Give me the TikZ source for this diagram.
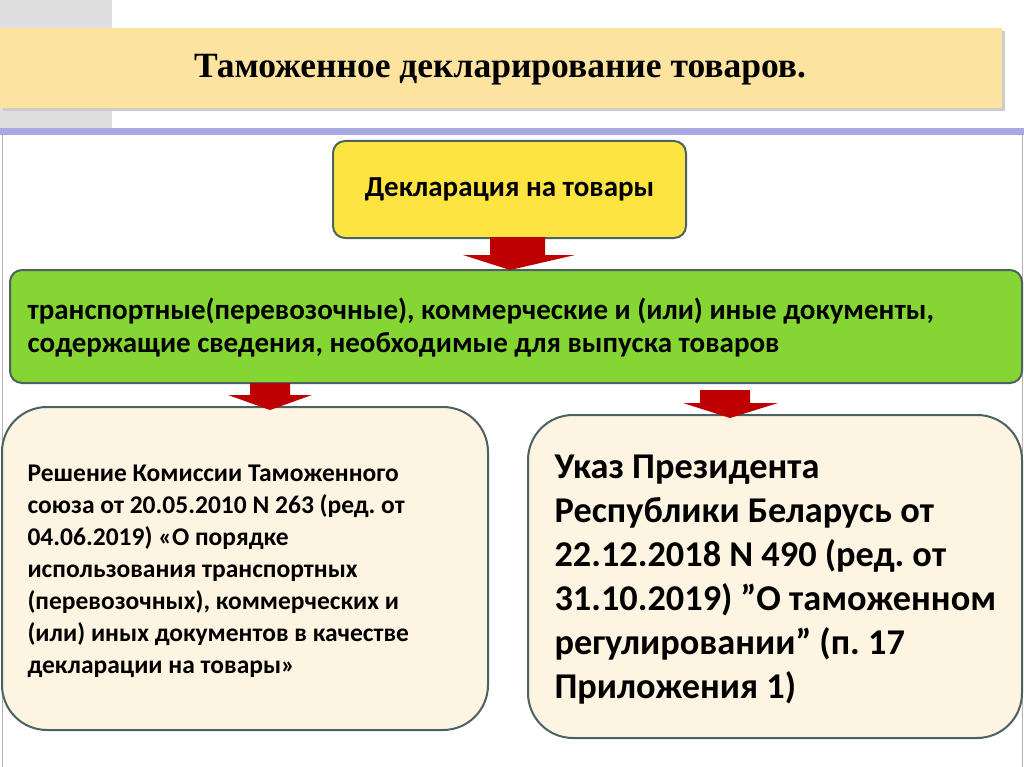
\documentclass[tikz,border=0pt]{standalone}
\usepackage{fontspec}
\setmainfont{Carlito}
\newfontfamily\titlefont{Liberation Serif}
\frenchspacing
\begin{document}
\begin{tikzpicture}[x=1pt,y=-1pt,
  box/.style={draw=black!60!teal!40!gray,line width=2pt,rounded corners=12pt},
  redarrow/.style={fill=red!75!black,draw=none},
  txt/.style={anchor=west,align=left,font=\bfseries}]
\useasboundingbox (0,0) rectangle (1024,767);
\fill[white] (0,0) rectangle (1024,767);
\fill[gray!25] (0,0) rectangle (112,130);
\begin{scope}
\clip (0,0) rectangle (112,130);
\draw[gray!40,line width=1.5pt] (50,130) arc (180:90:80 and 110);
\end{scope}
\fill[gray!50!blue!45] (0,128) rectangle (1024,135);
\draw[gray!60,line width=1pt] (2,135) -- (2,767) (1022,135) -- (1022,767);
\fill[black!20] (3,31) rectangle (1005,111);
\fill[yellow!45!orange!35!white] (0,28) rectangle (1002,108);
\node[font=\titlefont\bfseries\fontsize{35.5}{40}\selectfont] (title) at (500,70) {Таможенное декларирование товаров.};
\node[box,fill=yellow!80!orange!75,minimum width=353pt,minimum height=97pt] (decl) at (509.5,189.5) {};
\node[font=\bfseries\fontsize{29}{32}\selectfont] (declt) at (decl) {Декларация на товары};
\node[box,fill=green!55!lime!60!olive!80!white,minimum width=1012pt,minimum height=113pt] (docs) at (516,326.5) {};
\node[txt,font=\bfseries\fontsize{29}{33}\selectfont] (docst) at (24,328) {транспортные(перевозочные), коммерческие и (или) иные документы,\\содержащие сведения, необходимые для выпуска товаров};
\node[box,rounded corners=45pt,fill=yellow!25!orange!10!white,minimum width=486pt,minimum height=323pt] (left) at (245,568.5) {};
\node[txt,font=\bfseries\fontsize{25.5}{32}\selectfont] (leftt) at (24,571) {Решение Комиссии Таможенного\\союза от 20.05.2010 N 263 (ред. от\\04.06.2019) «О порядке\\использования транспортных\\(перевозочных), коммерческих и\\(или) иных документов в качестве\\декларации на товары»};
\node[box,rounded corners=45pt,fill=yellow!25!orange!10!white,minimum width=494pt,minimum height=323pt] (right) at (775,576.5) {};
\node[txt,font=\bfseries\fontsize{36.3}{44}\selectfont] (rightt) at (551,580) {Указ Президента\\Республики Беларусь от\\22.12.2018 N 490 (ред. от\\31.10.2019) \char34О таможенном\\регулировании\char34{} (п. 17\\Приложения 1)};
\fill[redarrow] (490,237) -- (545,237) -- (545,255) -- (575,255) -- (510,270) -- (463,255) -- (490,255) -- cycle;
\fill[redarrow] (250,383) -- (290,383) -- (290,395) -- (312,395) -- (270,410) -- (228,395) -- (250,395) -- cycle;
\fill[redarrow] (700,390) -- (750,390) -- (750,403) -- (778,403) -- (730,418) -- (683,403) -- (700,403) -- cycle;
\end{tikzpicture}
\end{document}
